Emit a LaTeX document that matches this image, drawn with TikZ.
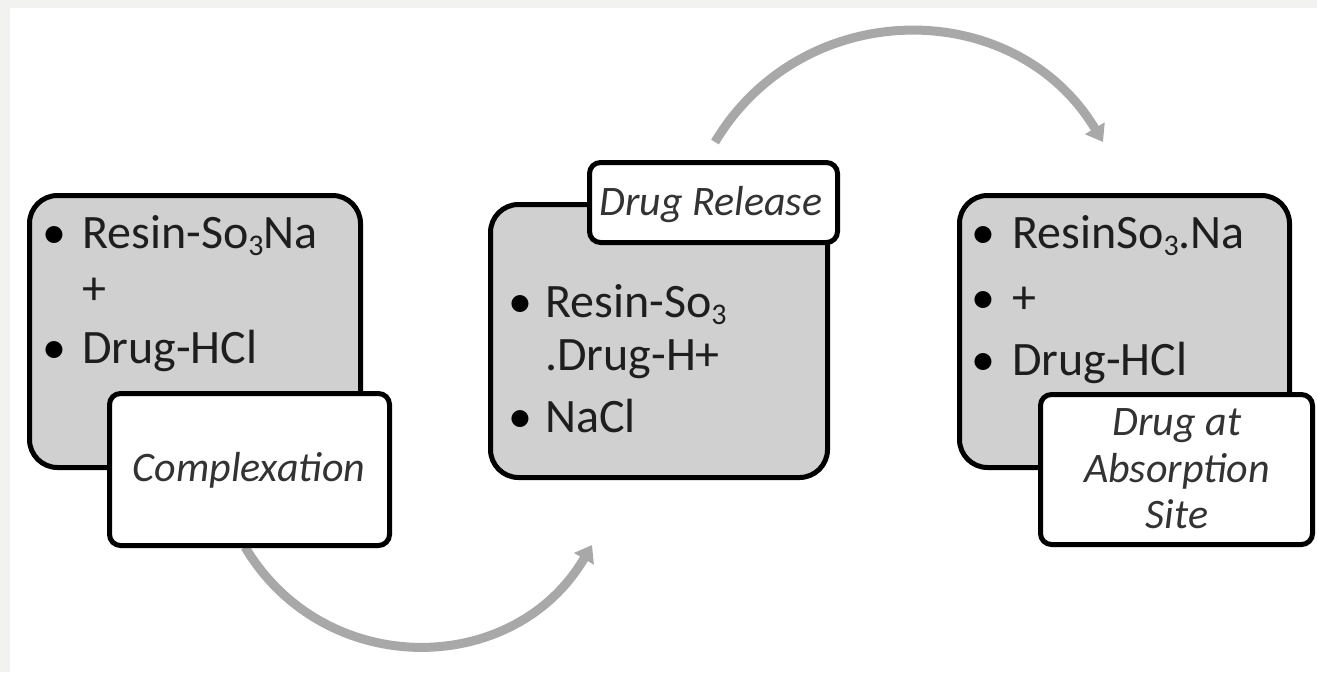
\documentclass[tikz,border=0pt]{standalone}
\usepackage{fontspec}
\setmainfont{Carlito}
\usetikzlibrary{arrows.meta}
\definecolor{boxgray}{HTML}{D0D0D0}
\definecolor{stripgray}{HTML}{F2F2F0}
\definecolor{arrowgray}{HTML}{A8A8A8}
\definecolor{txtdark}{HTML}{1E1E1E}
\definecolor{lbldark}{HTML}{333333}
\newcommand{\subthree}{\raisebox{-7pt}{\fontsize{30}{30}\selectfont 3}}
\begin{document}
\begin{tikzpicture}[x=1pt,y=-1pt,
  graybox/.style={draw=black, line width=5pt, fill=boxgray, rounded corners=28pt, inner sep=0pt},
  whitebox/.style={draw=black, line width=5pt, fill=white, rounded corners=11pt, inner sep=0pt},
  itemtext/.style={anchor=base west, inner sep=0pt, font=\fontsize{48}{50}\selectfont, text=txtdark},
  bul/.style={anchor=base, inner sep=0pt, font=\fontsize{48}{50}\selectfont, text=black},
  labeltext/.style={anchor=base, inner sep=0pt, font=\fontsize{42}{44}\selectfont\itshape, text=lbldark},
  flow/.style={draw=arrowgray, line width=9pt, -{Triangle[width=22pt,length=16pt]}}
]
% background
\fill[white] (0,0) rectangle (1317,672);
\fill[stripgray] (0,0) rectangle (1317,8);
\fill[stripgray] (0,0) rectangle (10,672);
\useasboundingbox (0,0) rectangle (1317,672);

% arrow end points
\coordinate (s1) at (245,547);
\coordinate (e1) at (592,545);
\coordinate (s2) at (715,142);
\coordinate (e2) at (1103,142);

% arrows
\draw[flow] (s1) .. controls (324,680) and (514,678) .. (e1);
\draw[flow] (s2) .. controls (803,-5) and (1015,-5) .. (e2);

% boxes
\node[graybox, minimum width=331pt, minimum height=272pt] (b1) at (195,331.5) {};
\node[whitebox, minimum width=280pt, minimum height=152pt] (c1) at (249.5,469.5) {};
\node[graybox, minimum width=337pt, minimum height=273pt] (b2) at (659,341) {};
\node[whitebox, minimum width=248pt, minimum height=80pt] (c2) at (713.5,202.5) {};
\node[graybox, minimum width=330pt, minimum height=272pt] (b3) at (1124.5,331.5) {};
\node[whitebox, minimum width=272pt, minimum height=150pt] (c3) at (1176.5,469.5) {};

% box 1 text
\node[bul] (b1u1) at (54,248) {•};
\node[itemtext] (b1t1) at (82,248) {Resin-So\subthree Na};
\node[itemtext] (b1t2) at (82,304) {+};
\node[bul] (b1u3) at (54,363) {•};
\node[itemtext] (b1t3) at (82,363) {Drug-HCl};
\node[labeltext] (c1t) at (249,481) {Complexation};

% box 2 text
\node[bul] (b2u1) at (520,317) {•};
\node[itemtext] (b2t1) at (545,317) {Resin-So\subthree};
\node[itemtext] (b2t2) at (545,370) {.Drug-H+};
\node[bul] (b2u3) at (520,432) {•};
\node[itemtext] (b2t3) at (545,432) {NaCl};
\node[labeltext] (c2t) at (711,215) {Drug Release};

% box 3 text
\node[bul] (b3u1) at (983,248) {•};
\node[itemtext] (b3t1) at (1012,248) {ResinSo\subthree.Na};
\node[bul] (b3u2) at (983,313) {•};
\node[itemtext] (b3t2) at (1012,313) {+};
\node[bul] (b3u3) at (983,375) {•};
\node[itemtext] (b3t3) at (1012,375) {Drug-HCl};
\node[labeltext] (c3t1) at (1177,435) {Drug at};
\node[labeltext] (c3t2) at (1177,482) {Absorption};
\node[labeltext] (c3t3) at (1177,528) {Site};
\end{tikzpicture}
\end{document}
